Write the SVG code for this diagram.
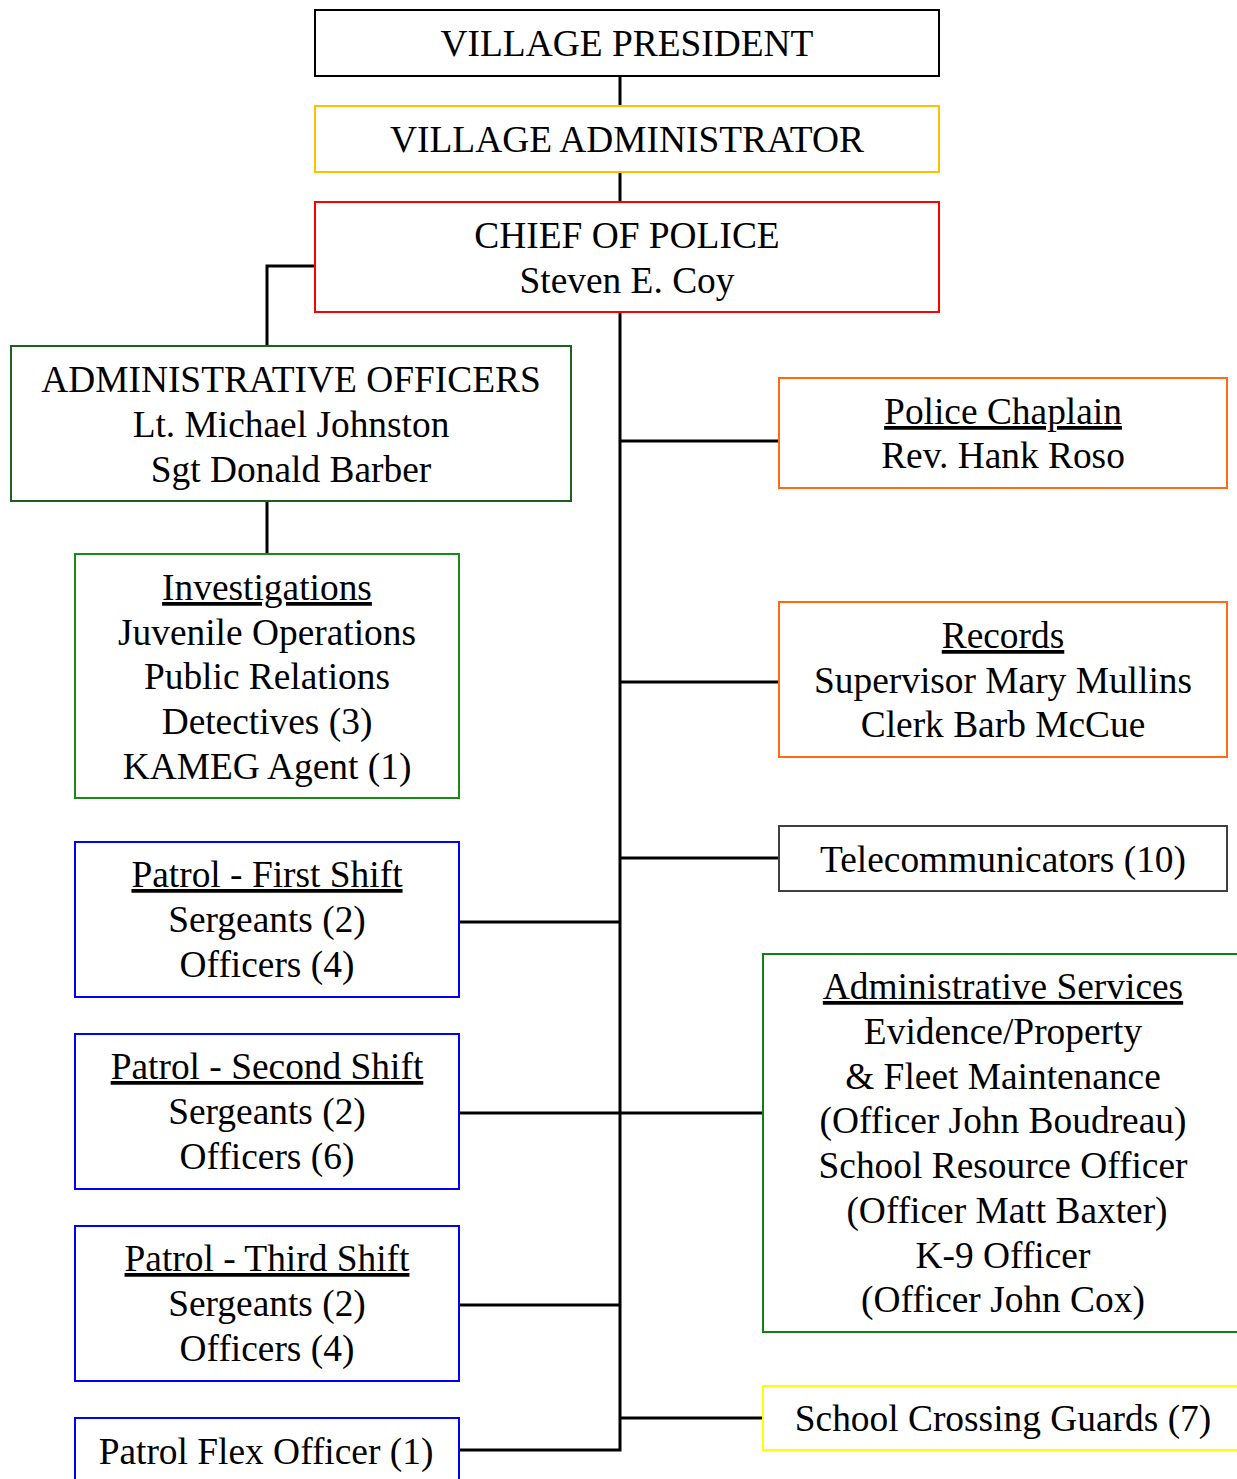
<svg xmlns="http://www.w3.org/2000/svg" width="1237" height="1479" viewBox="0 0 1237 1479">
<style>
rect{fill:#fff;stroke-width:2}
text{font-family:"Liberation Serif","Times New Roman",serif;font-size:37.4px;fill:#000;text-anchor:middle}
.u{text-decoration:underline}
.c line,.c path{stroke:#000;stroke-width:3;fill:none}
</style>
<rect x="0" y="0" width="1237" height="1479" style="fill:#fff;stroke:none"/>
<g class="c" id="connectors">
<line x1="620" y1="76" x2="620" y2="106"/>
<line x1="620" y1="172" x2="620" y2="202"/>
<path d="M620 312 V1450 H459"/>
<path d="M315 266 H267 V346"/>
<line x1="267" y1="501" x2="267" y2="554"/>
<line x1="620" y1="441" x2="779" y2="441"/>
<line x1="620" y1="682" x2="779" y2="682"/>
<line x1="620" y1="858" x2="779" y2="858"/>
<line x1="459" y1="922" x2="620" y2="922"/>
<line x1="459" y1="1113" x2="763" y2="1113"/>
<line x1="459" y1="1305" x2="620" y2="1305"/>
<line x1="620" y1="1418" x2="763" y2="1418"/>
</g>
<g id="president"><rect x="315" y="10" width="624" height="66" stroke="#000"/><text x="627" y="56">VILLAGE PRESIDENT</text></g>
<g id="administrator"><rect x="315" y="106" width="624" height="66" stroke="#FFC000"/><text x="627" y="152">VILLAGE ADMINISTRATOR</text></g>
<g id="chief"><rect x="315" y="202" width="624" height="110" stroke="#FF0000"/><text x="627" y="248">CHIEF OF POLICE</text><text x="627" y="293">Steven E. Coy</text></g>
<g id="admin-officers"><rect x="11" y="346" width="560" height="155" stroke="#1F5F1F"/><text x="291" y="392">ADMINISTRATIVE OFFICERS</text><text x="291" y="437">Lt. Michael Johnston</text><text x="291" y="482">Sgt Donald Barber</text></g>
<g id="investigations"><rect x="75" y="554" width="384" height="244" stroke="#168C16"/><text x="267" y="600" class="u">Investigations</text><text x="267" y="645">Juvenile Operations</text><text x="267" y="689">Public Relations</text><text x="267" y="734">Detectives (3)</text><text x="267" y="779">KAMEG Agent (1)</text></g>
<g id="chaplain"><rect x="779" y="378" width="448" height="110" stroke="#FF6A13"/><text x="1003" y="424" class="u">Police Chaplain</text><text x="1003" y="468">Rev. Hank Roso</text></g>
<g id="records"><rect x="779" y="602" width="448" height="155" stroke="#FF6A13"/><text x="1003" y="648" class="u">Records</text><text x="1003" y="693">Supervisor Mary Mullins</text><text x="1003" y="737">Clerk Barb McCue</text></g>
<g id="telecom"><rect x="779" y="826" width="448" height="65" stroke="#404040"/><text x="1003" y="872">Telecommunicators (10)</text></g>
<g id="patrol1"><rect x="75" y="842" width="384" height="155" stroke="#0000FF"/><text x="267" y="887" class="u">Patrol - First Shift</text><text x="267" y="932">Sergeants (2)</text><text x="267" y="977">Officers (4)</text></g>
<g id="patrol2"><rect x="75" y="1034" width="384" height="155" stroke="#0000FF"/><text x="267" y="1079" class="u">Patrol - Second Shift</text><text x="267" y="1124">Sergeants (2)</text><text x="267" y="1169">Officers (6)</text></g>
<g id="patrol3"><rect x="75" y="1226" width="384" height="155" stroke="#0000FF"/><text x="267" y="1271" class="u">Patrol - Third Shift</text><text x="267" y="1316">Sergeants (2)</text><text x="267" y="1361">Officers (4)</text></g>
<g id="flex"><rect x="75" y="1418" width="384" height="80" stroke="#0000FF"/><text x="266" y="1464">Patrol Flex Officer (1)</text></g>
<g id="admin-services"><rect x="763" y="954" width="490" height="378" stroke="#108010"/><text x="1003" y="999" class="u">Administrative Services</text><text x="1003" y="1044">Evidence/Property</text><text x="1003" y="1089">&amp; Fleet Maintenance</text><text x="1003" y="1133">(Officer John Boudreau)</text><text x="1003" y="1178">School Resource Officer</text><text x="1007" y="1223">(Officer Matt Baxter)</text><text x="1003" y="1268">K-9 Officer</text><text x="1003" y="1312">(Officer John Cox)</text></g>
<g id="crossing"><rect x="763" y="1386" width="490" height="64" stroke="#FFFF00"/><text x="1003" y="1431">School Crossing Guards (7)</text></g>
</svg>
